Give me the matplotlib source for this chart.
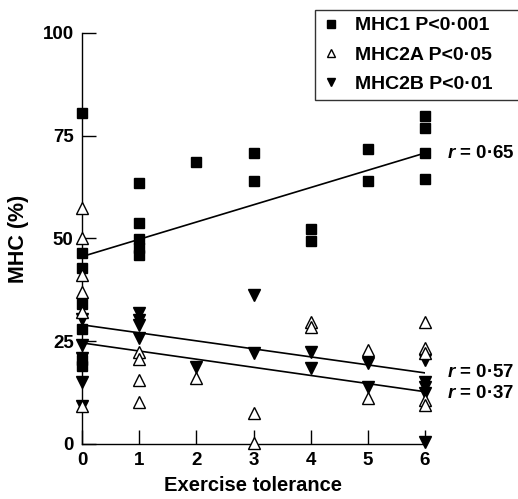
import numpy as np
import matplotlib
matplotlib.use('Agg')
import matplotlib.pyplot as plt

plt.rcParams['font.family'] = ['Liberation Sans', 'DejaVu Sans']
plt.rcParams['font.weight'] = 'bold'
plt.rcParams['axes.labelweight'] = 'bold'
plt.rcParams['mathtext.fontset'] = 'custom'
plt.rcParams['mathtext.it'] = 'Liberation Sans:italic:bold'
plt.rcParams['mathtext.rm'] = 'Liberation Sans:bold'

# MHC1 (filled squares) #
mhc1_x = [0, 0, 0, 0, 0, 0, 0, 1, 1, 1, 1, 1, 2, 3, 3, 4, 4, 5, 5, 6, 6, 6, 6]
mhc1_y = [80.5, 46.5, 42.8, 34.0, 28.0, 20.5, 19.0,
          63.4, 53.7, 49.8, 47.8, 46.0, 68.5, 70.7, 63.9,
          52.2, 49.5, 71.7, 63.9, 79.8, 77.0, 70.9, 64.4]

# MHC2A (open triangles) #
mhc2a_x = [0, 0, 0, 0, 0, 0, 1, 1, 1, 1, 2, 3, 3, 4, 4, 5, 5, 6, 6, 6, 6, 6]
mhc2a_y = [57.5, 50.2, 41.0, 37.0, 32.0, 9.3,
           22.4, 20.8, 15.6, 10.2, 16.0, 7.5, 0.2,
           29.8, 28.5, 22.9, 11.2, 29.8, 23.4, 22.1, 10.7, 9.5]

# MHC2B (filled down triangles) #
mhc2b_x = [0, 0, 0, 0, 0, 1, 1, 1, 1, 2, 3, 3, 4, 4, 5, 5, 6, 6, 6, 6, 6]
mhc2b_y = [30.5, 24.0, 21.0, 15.0, 9.3,
           31.8, 30.2, 29.0, 25.8, 18.8, 36.3, 22.1,
           22.4, 18.5, 19.7, 13.9, 20.4, 15.1, 13.9, 12.4, 0.5]

# regression lines (intercept, slope) #
fit_mhc1 = (45.6, 4.2)
fit_upper = (29.0, -1.95)
fit_lower = (24.6, -1.98)

labels = ['MHC1 P<0\u00b7001', 'MHC2A P<0\u00b705', 'MHC2B P<0\u00b701']
r_labels = ['0\u00b765', '0\u00b757', '0\u00b737']
r_ypos = [70.8, 17.3, 12.4]

fig = plt.figure(figsize=(5.18, 4.99), dpi=100)
ax = fig.add_axes([82/518, 55/499, 343/518, 411/499])

ms = 7.2
h1, = ax.plot(mhc1_x, mhc1_y, 's', color='black', ms=ms, clip_on=False, zorder=3)
h2, = ax.plot(mhc2a_x, mhc2a_y, '^', mfc='white', mec='black', mew=1.0,
              ms=ms+0.8, clip_on=False, zorder=4)
h3, = ax.plot(mhc2b_x, mhc2b_y, 'v', color='black', ms=ms+0.8, clip_on=False, zorder=3)

xs = np.array([0, 6])
for a, b in [fit_mhc1, fit_upper, fit_lower]:
    ax.plot(xs, a + b*xs, '-', color='black', lw=1.2, zorder=2)

ax.set_xlim(0, 6)
ax.set_ylim(0, 100)
ax.set_xticks(range(7))
ax.set_yticks([0, 25, 50, 75, 100])
ax.spines['top'].set_visible(False)
ax.spines['right'].set_visible(False)
for s in ['left', 'bottom']:
    ax.spines[s].set_linewidth(1.0)
ax.tick_params(direction='in', length=10, width=1.0, labelsize=13.5, pad=6)
ax.set_xlabel('Exercise tolerance', fontsize=14.5, labelpad=5)
ax.set_ylabel('MHC (%)', fontsize=15.5, labelpad=10)

for lab, yv in zip(r_labels, r_ypos):
    ax.text(6.38, yv, '$r$ = ' + lab, fontsize=13.5, va='center', ha='left')

# legend box runs off the right edge as in the original #
top = 1 - 10/499
leg = fig.legend([h1, h2, h3], labels, loc='upper left', mode='expand',
                 bbox_to_anchor=(315/518, 0.5, 215/518, top - 0.5), fontsize=14,
                 frameon=True, fancybox=False, edgecolor='black',
                 handlelength=0.9, handletextpad=0.8, borderpad=0.35,
                 labelspacing=0.6, markerscale=0.75, borderaxespad=0)
leg.get_frame().set_linewidth(1.0)

fig.savefig('out.png', dpi=100)
